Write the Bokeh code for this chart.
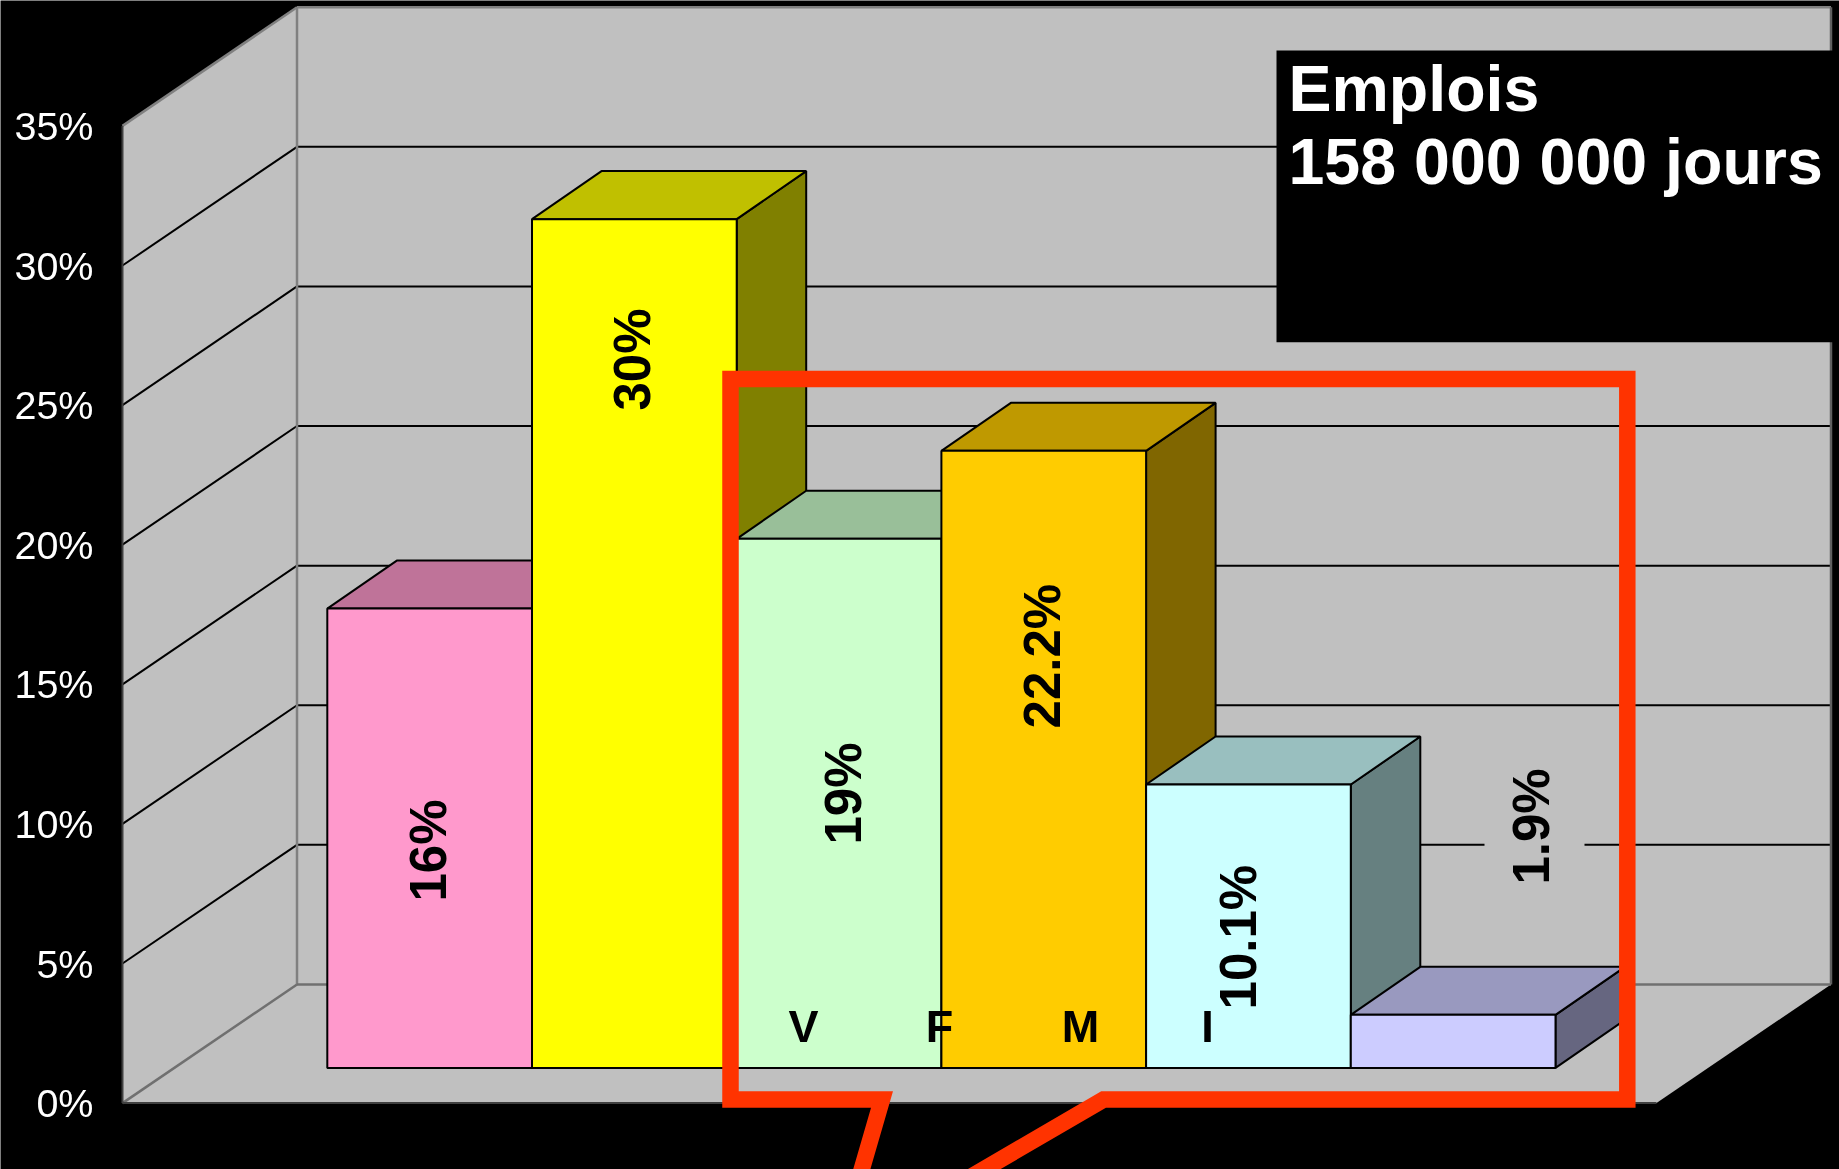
from bokeh.embed import file_html
from bokeh.resources import INLINE
from bokeh.plotting import figure
from bokeh.models import LinearAxis, FixedTicker, PrintfTickFormatter, Range1d
from bokeh.core.properties import value

# ---- data ----
bar_labels = ["16%", "30%", "19%", "22.2%", "10.1%", "1.9%"]
bar_values = [16.45, 30.4, 18.95, 22.1, 10.15, 1.9]
front_colors = ["#FF99CC", "#FFFF00", "#CCFFCC", "#FFCC00", "#CCFFFF", "#CCCCFF"]
top_colors = ["#BF7399", "#C0C000", "#99BF99", "#BF9900", "#99BFBF", "#9999BF"]
side_colors = ["#7F4C66", "#808000", "#668066", "#806600", "#668080", "#666680"]
categories = ["V", "F", "M", "I"]
axis_ticks = [0, 5, 10, 15, 20, 25, 30, 35]
title_lines = ["Emplois", "158 000 000 jours"]

# ---- layout ----
W, H = 1839, 1169
Y0_PX, PX_PER_PCT = 1102.6, 27.92
def py(px):
    return (Y0_PX - px) / PX_PER_PCT

WALL_L, WALL_B, WALL_R, FLOOR_R = 122, 296.5, 1830.5, 1656
DEPTH = 4.25
BAR_L, BAR_W, BAR_BASE, BAR_DX, BAR_DY = 326.8, 204.7, py(1067.4), 69.5, 1.72
label_px = [(428, 850), (632, 359), (843, 793), (1041.7, 655.6), (1238, 936.6), (1531, 826)]
cat_px = [803, 939, 1080, 1207]
cat_base_px = 1026
FONT = value("Liberation Sans")
RED = "#FF3300"

p = figure(width=W, height=H, output_backend="svg", toolbar_location=None,
           x_range=Range1d(0, W), y_range=Range1d(py(H), py(0)),
           x_axis_location=None, y_axis_location=None,
           min_border=0, outline_line_color=None,
           background_fill_color="#000000", border_fill_color="#000000")
p.grid.visible = False
p.styles = {"position": "fixed", "left": "0px", "top": "0px"}

# walls and floor
p.patch([WALL_B, WALL_R, WALL_R, WALL_B], [DEPTH, DEPTH, 35 + DEPTH, 35 + DEPTH], fill_color="#C0C0C0", line_color=None)
p.patch([WALL_L, WALL_B, WALL_B, WALL_L], [0, DEPTH, 35 + DEPTH, 35], fill_color="#C0C0C0", line_color=None)
p.patch([WALL_L, FLOOR_R, WALL_R, WALL_B], [0, 0, DEPTH, DEPTH], fill_color="#C0C0C0", line_color=None)

# gridlines
grid = [t for t in axis_ticks if 0 < t < 35]
p.multi_line([[WALL_L, WALL_B] for _ in grid], [[t, t + DEPTH] for t in grid], line_color="#000000", line_width=2)
p.multi_line([[WALL_B, WALL_R] for _ in grid], [[t + DEPTH, t + DEPTH] for t in grid], line_color="#000000", line_width=2)

# wall edges
GREY = "#808080"
p.line([WALL_L, WALL_B], [35, 35 + DEPTH], line_color=GREY, line_width=2.5)
p.line([WALL_B, WALL_R], [35 + DEPTH, 35 + DEPTH], line_color=GREY, line_width=2.5)
p.line([WALL_B, WALL_B], [DEPTH, 35 + DEPTH], line_color=GREY, line_width=2.5)
p.line([WALL_R, WALL_R], [DEPTH, 35 + DEPTH], line_color="#606060", line_width=2.5)
p.line([WALL_B, WALL_R], [DEPTH, DEPTH], line_color="#707070", line_width=2.5)
p.line([WALL_L, WALL_B], [0, DEPTH], line_color="#707070", line_width=2.5)
p.line([WALL_L, WALL_L], [0, 35], line_color="#404040", line_width=2)
p.line([WALL_L, FLOOR_R], [0, 0], line_color="#404040", line_width=2)

# gap in the gridline behind the 1.9% label
p.quad(left=[1484], right=[1584], bottom=[py(850)], top=[py(840)], fill_color="#C0C0C0", line_color=None)

# bars, left to right
for i, v in enumerate(bar_values):
    x0 = BAR_L + i * BAR_W
    x1 = x0 + BAR_W
    yb, yt = BAR_BASE, BAR_BASE + v
    p.patch([x1, x1 + BAR_DX, x1 + BAR_DX, x1], [yb, yb + BAR_DY, yt + BAR_DY, yt],
            fill_color=side_colors[i], line_color="#000000", line_width=2)
    p.patch([x0, x1, x1 + BAR_DX, x0 + BAR_DX], [yt, yt, yt + BAR_DY, yt + BAR_DY],
            fill_color=top_colors[i], line_color="#000000", line_width=2)
    p.patch([x0, x1, x1, x0], [yb, yb, yt, yt],
            fill_color=front_colors[i], line_color="#000000", line_width=2)

# y axis on the front edge of the left wall
axis = LinearAxis(fixed_location=WALL_L, ticker=FixedTicker(ticks=axis_ticks),
                  formatter=PrintfTickFormatter(format="%d%%"))
axis.axis_line_color = None
axis.major_tick_line_color = None
axis.minor_tick_line_color = None
axis.major_label_standoff = 23
axis.major_label_text_color = "#FFFFFF"
axis.major_label_text_font = "Liberation Sans"
axis.major_label_text_font_size = "39.5px"
p.add_layout(axis, "left")

# category letters
p.text(cat_px, [py(cat_base_px)] * len(cat_px), text=categories, text_font=FONT, text_font_style="bold",
       text_font_size="45px", text_align="center", text_baseline="alphabetic", text_color="#000000")

# callout
p.line([971, 1103, 1626.8, 1626.8, 730, 730, 881.5, 858],
       [py(1176), py(1099), py(1099), py(378.5), py(378.5), py(1099), py(1099), py(1180)],
       line_color=RED, line_width=16.5, line_join="miter")

# value labels
p.text([a for a, _ in label_px], [py(b) for _, b in label_px], text=bar_labels, angle=1.5708,
       text_font=FONT, text_font_style="bold", text_font_size="51px",
       text_align="center", text_baseline="middle", text_color="#000000")

# title box
p.quad(left=[1276], right=[W], bottom=[py(341.7)], top=[py(50)], fill_color="#000000", line_color=None)
p.text([1288, 1288], [py(88), py(161.5)], text=title_lines, text_font=FONT, text_font_style="bold",
       text_font_size="64.5px", text_align="left", text_baseline="alphabetic", text_color="#FFFFFF")

open("out.html", "w").write(file_html(p, INLINE))
